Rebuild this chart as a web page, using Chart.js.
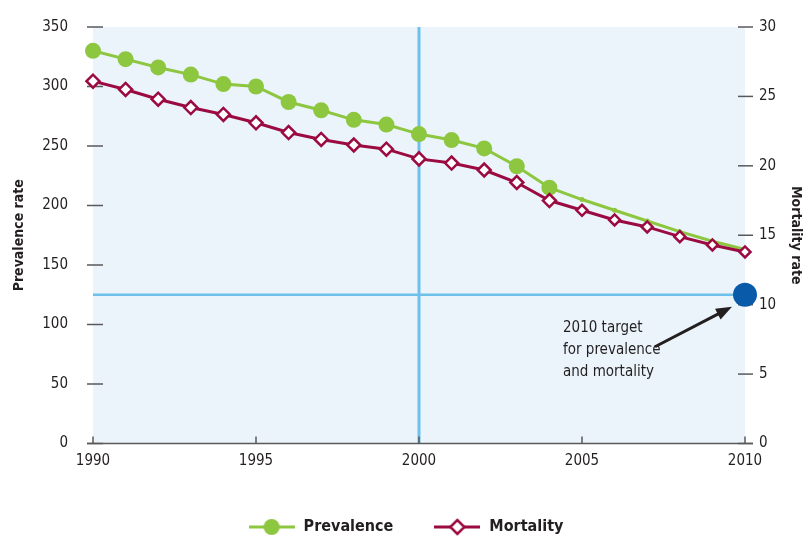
<!DOCTYPE html>
<html>
<head>
<meta charset="utf-8">
<title>Prevalence and mortality rate</title>
<script src="https://cdn.jsdelivr.net/npm/chart.js@4.4.0/dist/chart.umd.min.js"></script>
<style>
  html, body { margin: 0; padding: 0; background: #fff; }
  #wrap { width: 811px; height: 538px; }
</style>
</head>
<body>
<div id="wrap"><canvas id="rate-chart" width="811" height="538"></canvas></div>
<script>
// data
const years = [1990, 1991, 1992, 1993, 1994, 1995, 1996, 1997, 1998, 1999, 2000,
               2001, 2002, 2003, 2004, 2005, 2006, 2007, 2008, 2009, 2010];
const prevalence = [330, 323, 316, 310, 302, 300, 287, 280, 272, 268, 260,
                    255, 248, 233, 215, 205, 196, 187, 178, 170, 163];
const mortality = [26.1, 25.5, 24.8, 24.2, 23.7, 23.1, 22.4, 21.9, 21.5, 21.2, 20.5,
                   20.2, 19.7, 18.8, 17.5, 16.8, 16.1, 15.6, 14.9, 14.3, 13.8];
const lastObservedYear = 2004;
const baselineYear = 2000;
const targetYear = 2010;
const targetPrevalence = 125;
const annotationLines = ['2010 target', 'for prevalence', 'and mortality'];

const FONT = "'Liberation Sans Narrow', 'DejaVu Sans Condensed', 'Arial Narrow', sans-serif";
const INK = '#231f20';
const TICK = '#58595b';
const GREEN = '#8dc63f';
const CRIMSON = '#9b0a40';
const SKY = '#6cc0ea';
const NAVY = '#0a5aaa';

const observed = i => years[i] <= lastObservedYear;

// little line+marker pictures for the legend
function legendIcon(color, drawMarker) {
    const c = document.createElement('canvas');
    c.width = 46;
    c.height = 20;
    const g = c.getContext('2d');
    g.strokeStyle = color;
    g.lineWidth = 3;
    g.beginPath();
    g.moveTo(0, 10);
    g.lineTo(46, 10);
    g.stroke();
    drawMarker(g);
    return c;
}
const prevIcon = legendIcon(GREEN, g => {
    g.fillStyle = GREEN;
    g.beginPath();
    g.arc(23, 10, 8, 0, Math.PI * 2);
    g.fill();
});
const mortIcon = legendIcon(CRIMSON, g => {
    g.fillStyle = '#fff';
    g.strokeStyle = CRIMSON;
    g.lineWidth = 2.5;
    g.beginPath();
    g.moveTo(16, 10); g.lineTo(23, 3); g.lineTo(30, 10); g.lineTo(23, 17);
    g.closePath();
    g.fill();
    g.stroke();
});

// y axes: fixed width, and no extra room asked for above/below the plot
const fixAxis = width => s => {
    s.width = width;
    s.paddingTop = 0;
    s.paddingBottom = 0;
};

const decorations = {
    id: 'decorations',
    beforeDraw(chart) {
        const {ctx, chartArea: a} = chart;
        ctx.save();
        ctx.fillStyle = '#ebf4fb';
        ctx.fillRect(a.left, a.top, a.right - a.left, a.bottom - a.top);
        ctx.restore();
    },
    beforeDatasetsDraw(chart) {
        const {ctx, chartArea: a, scales: {x, y, y2}} = chart;
        ctx.save();
        // reference lines
        ctx.strokeStyle = SKY;
        ctx.lineWidth = 3;
        const bx = x.getPixelForValue(baselineYear);
        ctx.beginPath(); ctx.moveTo(bx, a.top); ctx.lineTo(bx, a.bottom); ctx.stroke();
        const ty = y.getPixelForValue(targetPrevalence);
        ctx.lineWidth = 2.5;
        ctx.beginPath(); ctx.moveTo(a.left, ty); ctx.lineTo(x.getPixelForValue(targetYear), ty); ctx.stroke();

        // axis line and tick marks
        ctx.strokeStyle = TICK;
        ctx.lineWidth = 1.5;
        ctx.beginPath(); ctx.moveTo(a.left - 6, a.bottom); ctx.lineTo(a.right + 8, a.bottom); ctx.stroke();
        y.ticks.forEach(t => {
            const py = y.getPixelForValue(t.value);
            ctx.beginPath(); ctx.moveTo(a.left - 6, py); ctx.lineTo(a.left + 10, py); ctx.stroke();
        });
        y2.ticks.forEach(t => {
            const py = y2.getPixelForValue(t.value);
            ctx.beginPath(); ctx.moveTo(a.right - 7, py); ctx.lineTo(a.right + 8, py); ctx.stroke();
        });
        x.ticks.forEach(t => {
            const px = x.getPixelForValue(t.value);
            ctx.beginPath(); ctx.moveTo(px, a.bottom); ctx.lineTo(px, a.bottom - 7); ctx.stroke();
        });
        ctx.restore();
    },
    afterDatasetsDraw(chart) {
        const {ctx, scales: {x, y}} = chart;
        const tx = x.getPixelForValue(targetYear);
        const ty = y.getPixelForValue(targetPrevalence);
        ctx.save();
        // arrow pointing at the target dot
        const x0 = tx - 90, y0 = ty + 52, x1 = tx - 13, y1 = ty + 12;
        const ang = Math.atan2(y1 - y0, x1 - x0);
        ctx.strokeStyle = INK;
        ctx.fillStyle = INK;
        ctx.lineWidth = 3;
        ctx.beginPath();
        ctx.moveTo(x0, y0);
        ctx.lineTo(x1 - 10 * Math.cos(ang), y1 - 10 * Math.sin(ang));
        ctx.stroke();
        ctx.beginPath();
        ctx.moveTo(x1, y1);
        ctx.lineTo(x1 - 16 * Math.cos(ang) + 6 * Math.sin(ang), y1 - 16 * Math.sin(ang) - 6 * Math.cos(ang));
        ctx.lineTo(x1 - 16 * Math.cos(ang) - 6 * Math.sin(ang), y1 - 16 * Math.sin(ang) + 6 * Math.cos(ang));
        ctx.closePath();
        ctx.fill();
        // note text
        ctx.font = '15px ' + FONT;
        ctx.textAlign = 'left';
        ctx.textBaseline = 'middle';
        annotationLines.forEach((line, i) => {
            ctx.fillText(line, tx - 182, ty + 33 + i * 22);
        });
        ctx.restore();
    }
};

const ctxRates = document.getElementById('rate-chart').getContext('2d');
const ratesChart = new Chart(ctxRates, {
    type: 'line',
    data: {
        datasets: [
            {
                label: 'Prevalence',
                data: years.map((yr, i) => ({x: yr, y: prevalence[i]})),
                yAxisID: 'y',
                borderColor: GREEN,
                backgroundColor: GREEN,
                borderWidth: 3,
                pointRadius: c => observed(c.dataIndex) ? 8 : 2.5,
                pointHoverRadius: c => observed(c.dataIndex) ? 8 : 2.5,
                pointBorderWidth: 0,
                clip: false,
                order: 2,
            },
            {
                label: 'Mortality',
                data: years.map((yr, i) => ({x: yr, y: mortality[i]})),
                yAxisID: 'y2',
                borderColor: CRIMSON,
                backgroundColor: '#fff',
                borderWidth: 3,
                pointStyle: 'rectRot',
                pointRadius: c => observed(c.dataIndex) ? 6.5 : 5.5,
                pointHoverRadius: c => observed(c.dataIndex) ? 6.5 : 5.5,
                pointBorderWidth: 2.5,
                clip: false,
                order: 1,
            },
            {
                label: 'Target',
                data: [{x: targetYear, y: targetPrevalence}],
                yAxisID: 'y',
                showLine: false,
                backgroundColor: NAVY,
                borderColor: NAVY,
                pointRadius: 12,
                pointHoverRadius: 12,
                pointBorderWidth: 0,
                clip: false,
                order: 0,
            },
        ],
    },
    options: {
        responsive: false,
        animation: false,
        layout: { padding: { top: 27, left: 0, right: 0, bottom: 0 } },
        scales: {
            x: {
                type: 'linear',
                min: 1990,
                max: 2010,
                grid: { display: false },
                border: { display: false },
                ticks: {
                    stepSize: 5,
                    color: INK,
                    padding: 1,
                    font: { family: FONT, size: 15 },
                    callback: v => String(v),
                },
                afterFit: s => { s.height = 35.5; },
            },
            y: {
                position: 'left',
                min: 0,
                max: 350,
                grid: { display: false },
                border: { display: false },
                ticks: { stepSize: 50, color: INK, padding: 17, font: { family: FONT, size: 15 } },
                title: {
                    display: true,
                    text: 'Prevalence rate',
                    color: INK,
                    font: { family: FONT, size: 14, weight: 'bold' },
                    padding: { top: 11, bottom: 0 },
                },
                afterFit: fixAxis(93),
            },
            y2: {
                position: 'right',
                min: 0,
                max: 30,
                grid: { display: false },
                border: { display: false },
                ticks: { stepSize: 5, color: INK, padding: 6, font: { family: FONT, size: 15 } },
                title: {
                    display: true,
                    text: 'Mortality rate',
                    color: INK,
                    font: { family: FONT, size: 14, weight: 'bold' },
                    padding: { top: 7, bottom: 0 },
                },
                afterFit: fixAxis(66),
            },
        },
        plugins: {
            tooltip: { enabled: false },
            legend: {
                display: true,
                position: 'bottom',
                maxHeight: 59,
                labels: {
                    usePointStyle: true,
                    pointStyleWidth: 48,
                    boxHeight: 20,
                    padding: 40,
                    color: INK,
                    font: { family: FONT, size: 16, weight: 'bold' },
                    generateLabels: () => [
                        { text: 'Prevalence', pointStyle: prevIcon, fillStyle: GREEN, strokeStyle: GREEN, lineWidth: 0, hidden: false, datasetIndex: 0, fontColor: INK },
                        { text: 'Mortality', pointStyle: mortIcon, fillStyle: '#fff', strokeStyle: CRIMSON, lineWidth: 0, hidden: false, datasetIndex: 1, fontColor: INK },
                    ],
                },
            },
        },
    },
    plugins: [decorations],
});
</script>
</body>
</html>
